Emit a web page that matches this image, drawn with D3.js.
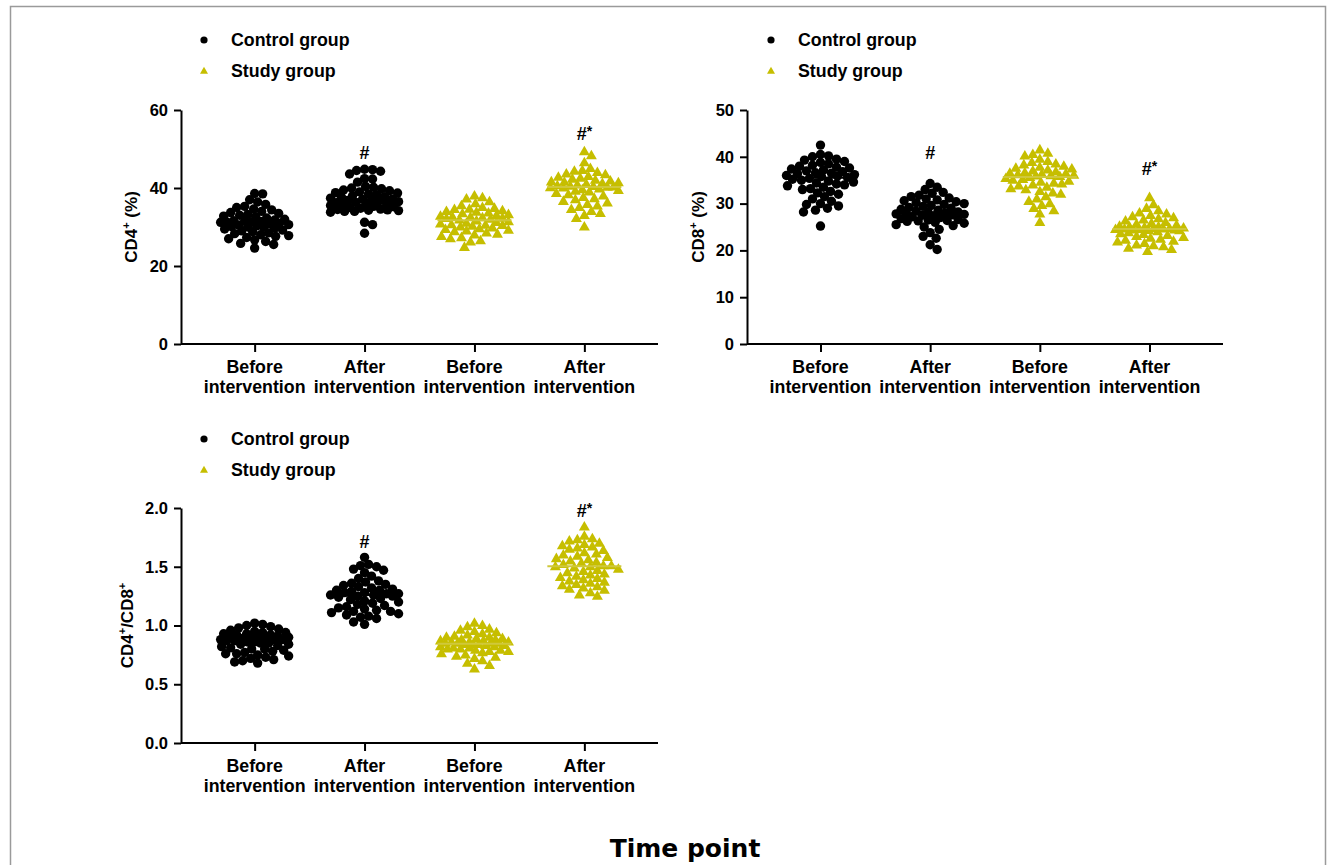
<!DOCTYPE html>
<html><head><meta charset="utf-8">
<script src="https://cdn.jsdelivr.net/npm/d3@7/dist/d3.min.js"></script>
<style>
body{margin:0;background:#fff;}
</style></head>
<body>
<svg id="c" width="1333" height="865"></svg>
<script>
// ---------- DATA ----------
const categories = ["Before intervention","After intervention","Before intervention","After intervention"];
const groupOf = ["Control group","Control group","Study group","Study group"];
const legendLabels = ["Control group","Study group"];

const cd4Ticks = [0,20,40,60];
const cd8Ticks = [0,10,20,30,40,50];
const ratioTicks = [0,0.5,1.0,1.5,2.0];

const cd4ControlBefore = [38.6,38.5,37.0,36.4,35.8,35.3,35.0,34.6,34.4,34.0,33.7,33.5,33.2,33.0,32.8,32.6,32.3,32.0,31.8,31.6,31.5,31.4,31.3,31.3,31.2,31.0,30.8,30.6,30.5,30.3,30.0,29.9,29.7,29.5,29.2,29.0,28.8,28.5,28.3,28.0,27.8,27.6,27.3,27.0,26.7,26.3,25.8,25.5,24.6,30.1];
const cd4ControlAfter = [44.8,44.7,44.5,44.3,43.6,42.4,42.3,41.5,40.4,40.2,40.0,39.8,39.5,39.3,39.0,38.7,38.5,38.3,38.0,37.8,37.6,37.4,37.2,37.1,37.0,36.8,36.5,36.3,36.0,35.8,35.5,35.3,35.0,34.8,34.6,34.5,34.4,34.3,34.2,34.0,34.0,33.8,36.2,35.9,36.6,38.8,31.2,30.6,28.4,35.2];
const cd4StudyBefore = [38.0,37.5,37.2,36.5,36.0,35.5,35.0,34.8,34.6,34.5,34.2,34.0,33.8,33.6,33.4,33.2,33.0,32.8,32.6,32.5,32.4,32.3,32.2,32.0,31.8,31.6,31.4,31.2,31.0,30.8,30.6,30.4,30.2,30.0,29.8,29.6,29.4,29.2,29.0,28.8,28.5,28.2,28.0,27.6,27.3,27.0,26.5,26.2,24.8,30.5];
const cd4StudyAfter = [49.3,48.3,46.5,45.0,44.5,44.3,44.0,43.6,43.4,43.0,42.8,42.5,42.3,42.0,41.8,41.6,41.4,41.2,41.0,40.8,40.6,40.5,40.4,40.3,40.2,40.1,40.0,39.8,39.6,39.4,39.2,39.0,38.6,38.3,38.0,37.6,37.3,37.0,36.6,36.2,35.8,35.4,35.0,34.5,34.0,33.5,33.0,32.2,30.0,41.5];

const cd8ControlBefore = [42.5,40.5,40.2,40.0,39.5,39.3,39.0,38.8,38.5,38.2,38.0,37.8,37.6,37.4,37.2,37.0,36.8,36.6,36.4,36.2,36.0,35.9,35.8,35.6,35.4,35.2,35.0,34.8,34.6,34.4,34.2,34.0,33.8,33.5,33.2,33.0,32.6,32.3,32.0,31.5,31.0,30.5,30.0,29.8,29.5,29.0,28.6,28.2,25.2,36.5];
const cd8ControlAfter = [34.3,33.5,33.0,32.4,32.2,31.8,31.5,31.2,31.0,30.8,30.6,30.4,30.2,30.0,29.8,29.6,29.4,29.2,29.0,28.8,28.6,28.4,28.2,28.1,28.0,27.9,27.8,27.7,27.6,27.4,27.2,27.0,26.8,26.6,26.5,26.4,26.3,26.2,26.0,25.8,25.5,25.3,25.0,24.5,23.8,23.0,22.6,21.2,20.2,27.5];
const cd8StudyBefore = [41.5,40.8,40.5,40.2,39.5,39.0,38.8,38.5,38.3,38.0,37.8,37.6,37.4,37.2,37.0,36.8,36.6,36.4,36.3,36.2,36.1,36.0,35.9,35.8,35.6,35.4,35.2,35.0,34.8,34.6,34.4,34.2,34.0,33.8,33.5,33.2,33.0,32.6,32.3,32.0,31.5,31.0,30.5,30.0,29.6,29.0,28.5,27.8,26.0,36.5];
const cd8StudyAfter = [31.3,29.8,29.0,28.5,28.0,27.8,27.5,27.2,27.0,26.8,26.5,26.3,26.0,25.8,25.6,25.4,25.2,25.0,24.9,24.8,24.7,24.6,24.6,24.5,24.5,24.4,24.4,24.3,24.2,24.0,23.8,23.6,23.4,23.2,23.0,22.8,22.6,22.4,22.2,22.0,21.8,21.5,21.2,21.0,20.8,20.5,20.2,19.8,24.7,25.1];

const ratioControlBefore = [1.02,1.01,1.00,0.99,0.98,0.97,0.96,0.95,0.94,0.94,0.93,0.93,0.92,0.92,0.91,0.91,0.90,0.90,0.89,0.89,0.88,0.88,0.88,0.87,0.87,0.86,0.86,0.85,0.85,0.84,0.84,0.83,0.82,0.81,0.80,0.80,0.79,0.78,0.77,0.76,0.76,0.75,0.74,0.73,0.72,0.71,0.70,0.69,0.68,0.90];
const ratioControlAfter = [1.58,1.52,1.51,1.50,1.48,1.47,1.45,1.42,1.40,1.38,1.37,1.36,1.35,1.34,1.33,1.32,1.31,1.30,1.30,1.29,1.28,1.28,1.27,1.27,1.26,1.25,1.25,1.24,1.23,1.22,1.21,1.20,1.19,1.18,1.17,1.16,1.15,1.14,1.13,1.12,1.12,1.11,1.10,1.09,1.08,1.07,1.06,1.03,1.01,1.26];
const ratioStudyBefore = [1.02,1.00,0.99,0.97,0.96,0.95,0.94,0.93,0.92,0.91,0.90,0.90,0.89,0.89,0.88,0.88,0.87,0.87,0.86,0.86,0.86,0.85,0.85,0.85,0.84,0.84,0.84,0.83,0.83,0.82,0.82,0.81,0.81,0.80,0.80,0.79,0.79,0.78,0.78,0.77,0.76,0.75,0.74,0.73,0.72,0.70,0.68,0.66,0.63,0.85];
const ratioStudyAfter = [1.84,1.76,1.74,1.73,1.72,1.70,1.69,1.68,1.67,1.66,1.65,1.64,1.62,1.61,1.60,1.59,1.58,1.57,1.56,1.55,1.54,1.53,1.52,1.51,1.51,1.50,1.50,1.49,1.48,1.47,1.46,1.45,1.44,1.43,1.42,1.41,1.40,1.39,1.38,1.37,1.36,1.35,1.34,1.33,1.32,1.31,1.30,1.28,1.26,1.25];

const cd4Marks = [null,"#",null,"#*"];
const cd4MarkValues = [null,49.2,null,54.1];
const cd8Marks = [null,"#",null,"#*"];
const cd8MarkValues = [null,41.0,null,37.6];
const ratioMarks = [null,"#",null,"#*"];
const ratioMarkValues = [null,1.72,null,1.98];

// ---------- DRAW ----------
const FONT = "'Liberation Sans', Arial, sans-serif";
const COL = {"Control group":"#000000","Study group":"#c6be00"};
const LINECOL = {"Control group":"#000000","Study group":"#cfc83a"};
const svg = d3.select("#c");

svg.append("rect").attr("x",10.5).attr("y",6.5).attr("width",1315).attr("height",900)
  .attr("fill","none").attr("stroke","#9a9a9a").attr("stroke-width",1.5);

function txt(sel){ return sel.style("font-family",FONT).style("font-weight","bold").attr("fill","#000"); }
function triPath(s){ const h=s*0.866; return `M0,${-h*0.62}L${s/2},${h*0.38}L${-s/2},${h*0.38}Z`; }

function swarm(vals, y, r, cap){
  const sorted = vals.map(v=>({v, y:y(v)})).sort((a,b)=>a.y-b.y);
  const placed=[];
  const d=2*r*0.85;
  sorted.forEach(p=>{
    let found=null, bestOff=0, bestScore=-1;
    for(let k=0;k<=cap && found===null;k++){
      const cands = k===0?[0]:[k,-k];
      for(const off of cands){
        let mind=Infinity;
        for(const q of placed){const dx=q.dx-off, dy=q.y-p.y; const dd=Math.sqrt(dx*dx+dy*dy); if(dd<mind) mind=dd;}
        if(mind>=d){found=off;break;}
        if(mind>bestScore){bestScore=mind;bestOff=off;}
      }
    }
    p.dx = found!==null?found:bestOff; placed.push(p);
  });
  return placed;
}

function panel(cfg){
  const g = svg.append("g");
  const y = d3.scaleLinear().domain(cfg.domain).range([cfg.yBot,cfg.yTop]);
  const x = d3.scalePoint().domain([0,1,2,3]).range([cfg.x0,cfg.x1]).padding(0.67);

  const ya = g.append("g").attr("transform",`translate(${cfg.x0},0)`)
    .call(d3.axisLeft(y).tickValues(cfg.ticks).tickSize(7).tickSizeOuter(0).tickPadding(6).tickFormat(cfg.fmt));
  ya.selectAll("path,line").attr("stroke","#000").attr("stroke-width",2);
  txt(ya.selectAll("text")).attr("font-size",16.5);

  const xa = g.append("g").attr("transform",`translate(0,${cfg.yBot})`)
    .call(d3.axisBottom(x).tickSize(8).tickSizeOuter(0).tickFormat(""));
  xa.select("path").attr("d",`M${cfg.x0},0H${cfg.x1}`);
  xa.selectAll("path,line").attr("stroke","#000").attr("stroke-width",2);

  categories.forEach((c,i)=>{
    const parts=c.split(" ");
    const t=txt(g.append("text")).attr("text-anchor","middle").attr("font-size",17.8);
    parts.forEach((p,j)=>t.append("tspan").attr("x",x(i)).attr("y",cfg.yBot+29+j*20).text(p));
  });

  const yl = txt(g.append("text")).attr("transform",`translate(${cfg.labelX},${(cfg.yTop+cfg.yBot)/2}) rotate(-90)`)
    .attr("text-anchor","middle").attr("font-size",17);
  cfg.label.forEach(seg=>{
    const ts=yl.append("tspan").text(seg.t);
    if(seg.sup) ts.attr("font-size",11).attr("dy",-7);
    else if(seg.after) ts.attr("dy",7);
  });

  cfg.series.forEach((vals,i)=>{
    const grp=groupOf[i], col=COL[grp];
    const pts=swarm(vals,y,4.6,34);
    const gg=g.append("g");
    if(grp==="Control group"){
      gg.selectAll("circle").data(pts).join("circle")
        .attr("cx",p=>x(i)+p.dx).attr("cy",p=>p.y).attr("r",4.7).attr("fill",col);
    } else {
      gg.selectAll("path").data(pts).join("path")
        .attr("d",triPath(11)).attr("transform",p=>`translate(${x(i)+p.dx},${p.y})`).attr("fill",col);
    }
    const med=d3.median(vals);
    g.append("line").attr("x1",x(i)-37).attr("x2",x(i)+37).attr("y1",y(med)).attr("y2",y(med))
      .attr("stroke",LINECOL[grp]).attr("stroke-width",2);
    if(cfg.marks[i]){
      const mt=txt(g.append("text")).attr("text-anchor","middle").attr("x",x(i)).attr("y",y(cfg.markVals[i])+7).attr("font-size",18);
      mt.append("tspan").text("#");
      if(cfg.marks[i].length>1) mt.append("tspan").attr("font-size",14).attr("dy",-4).text("*");
    }
  });

  const L=cfg.legend;
  g.append("circle").attr("cx",L.x).attr("cy",L.y).attr("r",3.6).attr("fill",COL["Control group"]);
  txt(g.append("text")).attr("x",L.x+27).attr("y",L.y+6).attr("font-size",17.8).text(legendLabels[0]);
  g.append("path").attr("d",triPath(8)).attr("transform",`translate(${L.x},${L.y+31})`).attr("fill",COL["Study group"]);
  txt(g.append("text")).attr("x",L.x+27).attr("y",L.y+37).attr("font-size",17.8).text(legendLabels[1]);
}

panel({x0:181,x1:658,yTop:110,yBot:344,domain:[0,60],ticks:cd4Ticks,fmt:d3.format("d"),
  labelX:137,label:[{t:"CD4"},{t:"+",sup:true},{t:" (%)",after:true}],
  series:[cd4ControlBefore,cd4ControlAfter,cd4StudyBefore,cd4StudyAfter],
  marks:cd4Marks,markVals:cd4MarkValues,legend:{x:204,y:40}});
panel({x0:747,x1:1223,yTop:110,yBot:344,domain:[0,50],ticks:cd8Ticks,fmt:d3.format("d"),
  labelX:704,label:[{t:"CD8"},{t:"+",sup:true},{t:" (%)",after:true}],
  series:[cd8ControlBefore,cd8ControlAfter,cd8StudyBefore,cd8StudyAfter],
  marks:cd8Marks,markVals:cd8MarkValues,legend:{x:771,y:40}});
panel({x0:181,x1:658,yTop:508,yBot:743,domain:[0,2],ticks:ratioTicks,fmt:d3.format(".1f"),
  labelX:133,label:[{t:"CD4"},{t:"+",sup:true},{t:"/CD8",after:true},{t:"+",sup:true}],
  series:[ratioControlBefore,ratioControlAfter,ratioStudyBefore,ratioStudyAfter],
  marks:ratioMarks,markVals:ratioMarkValues,legend:{x:204,y:439}});

svg.append("text").attr("x",685).attr("y",857).attr("text-anchor","middle")
  .style("font-family","'DejaVu Sans', Verdana, sans-serif").attr("font-size",25).style("font-weight","bold")
  .attr("fill","#000").text("Time point");
</script>
</body></html>
